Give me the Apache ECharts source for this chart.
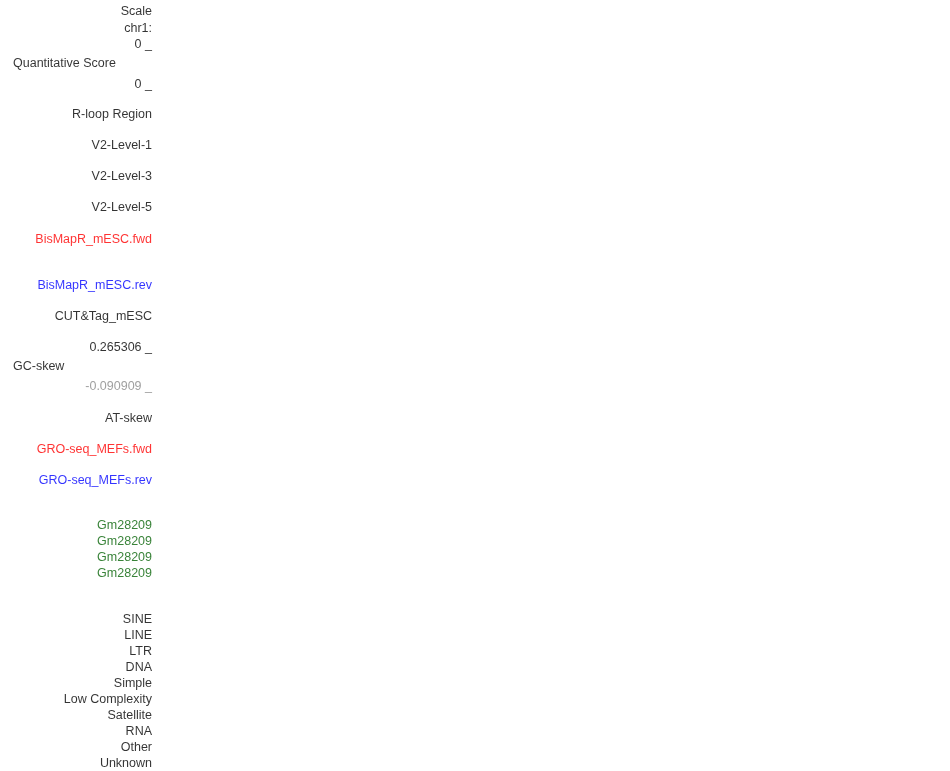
<!DOCTYPE html>
<html>
<head>
<meta charset="utf-8">
<script src="https://cdn.jsdelivr.net/npm/echarts@6/dist/echarts.min.js"></script>
<style>
  html, body { margin: 0; padding: 0; background: #fff; }
  #chart { width: 950px; height: 771px; }
</style>
</head>
<body>
<div id="chart"></div>
<script>
// track labels, right-aligned against the track area
const rightLabels = ['Scale', 'chr1:', '0 _', '0 _', 'R-loop Region', 'V2-Level-1', 'V2-Level-3', 'V2-Level-5',
  'BisMapR_mESC.fwd', 'BisMapR_mESC.rev', 'CUT&Tag_mESC', '0.265306 _', '-0.090909 _', 'AT-skew',
  'GRO-seq_MEFs.fwd', 'GRO-seq_MEFs.rev', 'Gm28209', 'Gm28209', 'Gm28209', 'Gm28209',
  'SINE', 'LINE', 'LTR', 'DNA', 'Simple', 'Low Complexity', 'Satellite', 'RNA', 'Other', 'Unknown']
const rightRows = [12, 29, 45, 85, 115, 146, 177, 208, 240, 286, 317, 348, 387, 419, 450, 481,
  526, 542, 558, 574, 620, 636, 652, 668, 684, 700, 716, 732, 748, 764]
const rightColors = ['#000', '#000', '#000', '#000', '#000', '#000', '#000', '#000',
  '#ff0000', '#0000ff', '#000', '#000', '#888', '#000', '#ff0000', '#0000ff',
  '#086408', '#086408', '#086408', '#086408',
  '#000', '#000', '#000', '#000', '#000', '#000', '#000', '#000', '#000', '#000']

// labels left-aligned at the page edge
const leftLabels = ['Quantitative Score', 'GC-skew']
const leftRows = [64, 367]

const chart = echarts.init(document.getElementById('chart'))
const labelFont = { fontFamily: 'Liberation Sans', fontSize: 12.5, textBorderWidth: 0 }

chart.setOption({
  animation: false,
  backgroundColor: '#fff',
  grid: { left: 0, right: 0, top: 0, bottom: 0 },
  xAxis: { type: 'value', min: 0, max: 950, show: false },
  yAxis: { type: 'value', min: 0, max: 771, inverse: true, show: false },
  series: [
    {
      type: 'scatter',
      symbolSize: 0,
      data: rightLabels.map((t, i) => ({
        value: [152, rightRows[i]],
        label: { formatter: t, color: rightColors[i] }
      })),
      label: { show: true, position: 'left', distance: 0, align: 'right', verticalAlign: 'middle', ...labelFont }
    },
    {
      type: 'scatter',
      symbolSize: 0,
      data: leftLabels.map((t, i) => ({
        value: [13, leftRows[i]],
        label: { formatter: t, color: '#000' }
      })),
      label: { show: true, position: 'right', distance: 0, align: 'left', verticalAlign: 'middle', ...labelFont }
    }
  ]
})
</script>
</body>
</html>
